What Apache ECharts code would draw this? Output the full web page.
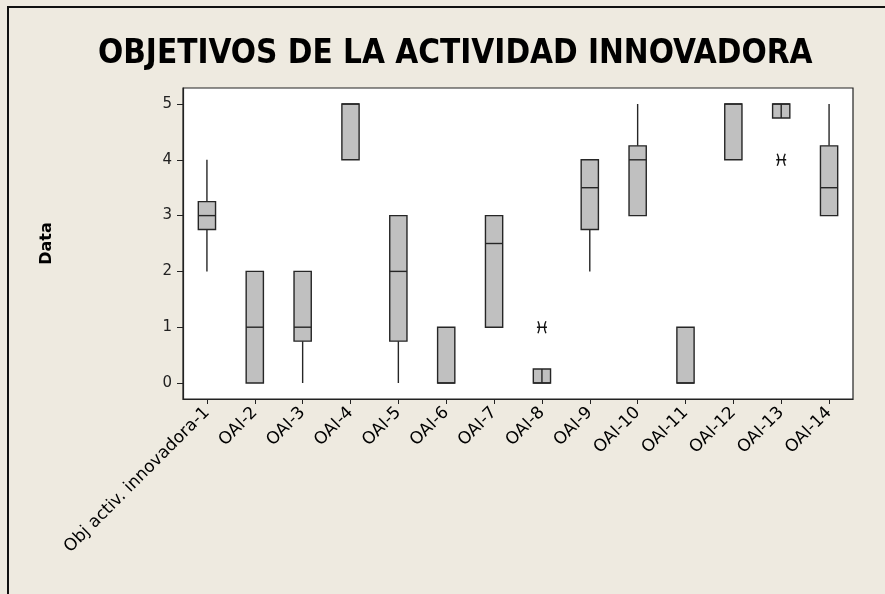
<!DOCTYPE html>
<html>
<head>
<meta charset="utf-8">
<script src="https://cdn.jsdelivr.net/npm/echarts@6/dist/echarts.min.js"></script>
<style>html,body{margin:0;padding:0;background:#eeeae0;}#c{width:885px;height:594px;}</style>
</head>
<body>
<div id="c"></div>
<script>
// ---- data ----
const categories = ['Obj activ. innovadora-1','OAI-2','OAI-3','OAI-4','OAI-5','OAI-6','OAI-7','OAI-8','OAI-9','OAI-10','OAI-11','OAI-12','OAI-13','OAI-14'];
const mins    = [2,    0, 0,    4, 0,    0, 1,   0,    2,    3,    0, 4, 4.75, 3];
const q1s     = [2.75, 0, 0.75, 4, 0.75, 0, 1,   0,    2.75, 3,    0, 4, 4.75, 3];
const medians = [3,    1, 1,    5, 2,    0, 2.5, 0,    3.5,  4,    0, 5, 5,    3.5];
const q3s     = [3.25, 2, 2,    5, 3,    1, 3,   0.25, 4,    4.25, 1, 5, 5,    4.25];
const maxs    = [4,    2, 2,    5, 3,    1, 3,   0.25, 4,    5,    1, 5, 5,    5];
const outlierCats   = ['OAI-8', 'OAI-13'];
const outlierValues = [1, 4];
const yTicks = [0, 1, 2, 3, 4, 5];

const boxData = categories.map((c, i) => [i, mins[i], q1s[i], medians[i], q3s[i], maxs[i]]);
const outData = outlierCats.map((c, i) => [categories.indexOf(c), outlierValues[i]]);

const chart = echarts.init(document.getElementById('c'), null, {renderer: 'canvas'});
const stroke = '#262626';

function renderBox(params, api) {
  const i = api.value(0);
  const vMin = api.value(1), vQ1 = api.value(2), vMed = api.value(3), vQ3 = api.value(4), vMax = api.value(5);
  const band = api.size([1, 0])[0];
  const w = band * 0.36;
  const x = api.coord([i, vMed])[0];
  const yMin = api.coord([i, vMin])[1];
  const yQ1 = api.coord([i, vQ1])[1];
  const yMed = api.coord([i, vMed])[1];
  const yQ3 = api.coord([i, vQ3])[1];
  const yMax = api.coord([i, vMax])[1];
  const ls = {stroke: stroke, lineWidth: 1.4};
  const children = [];
  if (vMin < vQ1) children.push({type: 'line', shape: {x1: x, y1: yQ1, x2: x, y2: yMin}, style: ls});
  if (vMax > vQ3) children.push({type: 'line', shape: {x1: x, y1: yQ3, x2: x, y2: yMax}, style: ls});
  children.push({type: 'rect', shape: {x: x - w / 2, y: yQ3, width: w, height: yQ1 - yQ3},
    style: {fill: '#c0c0c0', stroke: stroke, lineWidth: 1.4}});
  children.push({type: 'line', shape: {x1: x - w / 2, y1: yMed, x2: x + w / 2, y2: yMed}, style: ls});
  if (vQ3 - vQ1 <= 0.25) children.push({type: 'line', shape: {x1: x, y1: yQ3, x2: x, y2: yQ1}, style: ls});
  return {type: 'group', children: children};
}

function renderStar(params, api) {
  const p = api.coord([api.value(0), api.value(1)]);
  const cx = p[0], cy = p[1];
  const path = 'M' + (cx - 5) + ' ' + cy + 'L' + (cx + 5) + ' ' + cy +
    'M' + (cx - 4) + ' ' + (cy - 6) + 'Q' + (cx - 1) + ' ' + cy + ' ' + (cx - 4) + ' ' + (cy + 6) +
    'M' + (cx + 4) + ' ' + (cy - 6) + 'Q' + (cx + 1) + ' ' + cy + ' ' + (cx + 4) + ' ' + (cy + 6);
  return {type: 'path', shape: {pathData: path}, style: {fill: null, stroke: '#111', lineWidth: 1.4}};
}

chart.setOption({
  backgroundColor: '#eeeae0',
  animation: false,
  title: {
    text: 'OBJETIVOS DE LA ACTIVIDAD INNOVADORA',
    left: 93, top: 33,
    textStyle: {fontFamily: 'DejaVu Sans Condensed', fontWeight: 'bold', fontSize: 33, color: '#000'}
  },
  graphic: [{
    type: 'rect', silent: true, z: -1,
    shape: {x: 8, y: 7, width: 2000, height: 2000},
    style: {fill: null, stroke: '#111', lineWidth: 2}
  }],
  grid: {left: 183, top: 88, right: 32, bottom: 195, show: true, backgroundColor: '#ffffff', borderColor: '#222', borderWidth: 1.2},
  xAxis: {
    type: 'category', data: categories, boundaryGap: true,
    axisLine: {show: true, onZero: false, lineStyle: {color: '#222', width: 1.2}},
    axisTick: {show: true, alignWithLabel: true, length: 5, lineStyle: {color: '#222'}},
    axisLabel: {rotate: 45, interval: 0, margin: 11, fontFamily: 'DejaVu Sans', fontSize: 17, color: '#000'},
    splitLine: {show: false}
  },
  yAxis: {
    type: 'value', min: -0.287, max: 5.287,
    name: 'Data', nameLocation: 'middle', nameRotate: 90, nameGap: 128,
    nameTextStyle: {fontFamily: 'DejaVu Sans', fontWeight: 'bold', fontSize: 16, color: '#000'},
    axisLine: {show: true, onZero: false, lineStyle: {color: '#222', width: 1.2}},
    axisTick: {show: true, length: 6, customValues: yTicks, lineStyle: {color: '#222'}},
    axisLabel: {customValues: yTicks, margin: 11, fontFamily: 'DejaVu Sans', fontSize: 15, color: '#222'},
    splitLine: {show: false}
  },
  series: [
    {type: 'custom', renderItem: renderBox, data: boxData, encode: {x: 0, y: [1, 2, 3, 4, 5]}, clip: false},
    {type: 'custom', renderItem: renderStar, data: outData, encode: {x: 0, y: 1}}
  ]
});
</script>
</body>
</html>
